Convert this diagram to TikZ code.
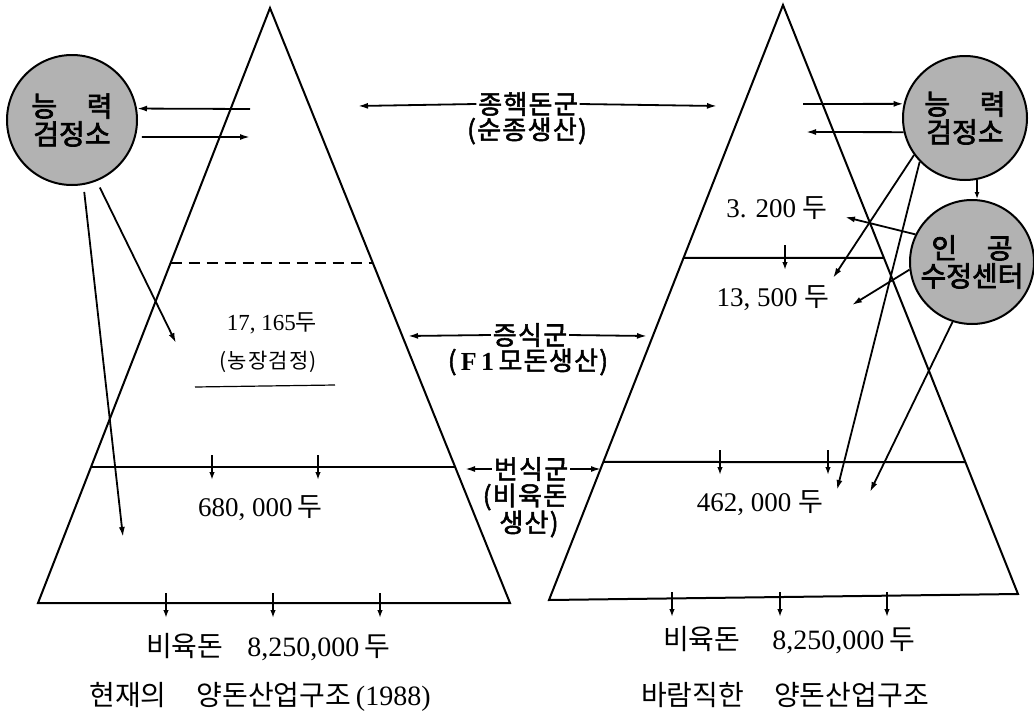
\documentclass[tikz,border=0pt]{standalone}
\usepackage{fontspec}
\setmainfont{Liberation Serif}
\newfontfamily\cjk{Noto Sans CJK KR}
\newfontfamily\cjkl[LetterSpace=6]{Noto Sans CJK KR}
\newfontfamily\cjkb[FakeBold=2,LetterSpace=5]{Noto Sans CJK KR}
\newfontfamily\cjkc[FakeBold=2.5]{Noto Sans CJK KR}
\usetikzlibrary{arrows.meta,calc}
\begin{document}
\begin{tikzpicture}[x=1pt,y=-1pt, line width=1.8pt,
  arr/.style={-{Latex[length=10pt,width=6pt]}},
  dnarr/.style={-{Latex[length=8pt,width=5.5pt]}, line width=1.6pt},
  circ/.style={circle, draw, line width=2pt, fill=black!30, inner sep=0pt, align=center,
    font=\cjkc\fontsize{28}{28}\selectfont},
  lab/.style={font=\cjkb\fontsize{26}{28}\selectfont, inner sep=1pt},
  num/.style={font=\fontsize{27}{28}\selectfont, inner sep=1pt},
  bot/.style={font=\fontsize{28}{30}\selectfont, inner sep=1pt},
  tri/.style={line width=2pt, line join=miter}
]
\useasboundingbox (0,0) rectangle (1034,712);
\fill[white] (0,0) rectangle (1034,712);

% ---------- left pyramid ----------
\coordinate (LA) at (270,8);
\coordinate (LBL) at (38,603);
\coordinate (LBR) at (510,603);
\draw[tri] (LBL) -- (LA) -- (LBR) -- cycle;
\draw[tri, dash pattern=on 11pt off 7pt] ($(LA)!0.4286!(LBL)$) -- ($(LA)!0.4286!(LBR)$);
\draw[tri] ($(LA)!0.7714!(LBL)$) -- ($(LA)!0.7714!(LBR)$);

% ---------- right pyramid ----------
\coordinate (RA) at (783,5);
\coordinate (RBL) at (549,600);
\coordinate (RBR) at (1018,594);
\draw[tri] (RBL) -- (RA) -- (RBR) -- cycle;
\draw[tri] ($(RA)!0.425!(RBL)$) -- ($(RA)!0.4295!(RBR)$);
\draw[tri] ($(RA)!0.768!(RBL)$) -- ($(RA)!0.776!(RBR)$);

% ---------- circles ----------
\node[circ, minimum size=130pt] (lc) at (72,120)
  {\makebox[2.9em]{능\hfill 력}\\검정소};
\node[circ, minimum size=124pt] (rc1) at (965,118)
  {\makebox[2.9em]{능\hfill 력}\\검정소};
\node[circ, minimum size=124pt] (rc2) at (972,262)
  {\makebox[2.9em]{인\hfill 공}\\수정센터};

% ---------- left texts ----------
\node[font=\fontsize{23}{24}\selectfont, inner sep=1pt] (n17) at (272,323) {17, 165{\cjk 두}};
\node[font=\cjkl\fontsize{21}{22}\selectfont, inner sep=1pt] (nfarm) at (268,362) {(농장검정)};
\coordinate (ul1) at (195,387);
\coordinate (ul2) at (335,385);
\draw[line width=1.2pt] (ul1) -- (ul2);
\node[num] (n680) at (260,508) {680, 000\,{\cjk 두}};
\node[bot] (lbot) at (268,647) {{\cjk 비육돈}\hspace{24pt}8,250,000\,{\cjk 두}};
\node[bot] (ltitle) at (260,697) {{\cjk 현재의}\hspace{30pt}{\cjk 양돈산업구조}\,(1988)};

% ---------- right texts ----------
\node[num] (n32) at (777,208) {3. 200 {\cjk 두}};
\node[num] (n135) at (773,298) {13, 500 {\cjk 두}};
\node[num] (n462) at (760,503) {462, 000 {\cjk 두}};
\node[bot] (rbot) at (789,640) {{\cjk 비육돈}\hspace{32pt}8,250,000\,{\cjk 두}};
\node[bot] (rtitle) at (785,695) {{\cjk 바람직한}\hspace{30pt}{\cjk 양돈산업구조}};

% ---------- middle labels ----------
\node[lab] (jh) at (528,104) {종핵돈군};
\node[lab] (jh2) at (527,131) {(순종생산)};
\coordinate (jhL) at (358,106);
\coordinate (jhR) at (717,106);
\draw[arr] (jh.west) -- (jhL);
\draw[arr] (jh.east) -- (jhR);

\node[lab] (js) at (530,335) {증식군};
\node[lab] (js2) at (528,362) {(\,{\rmfamily\bfseries F\,1}\,모돈생산)};
\coordinate (jsL) at (408,336);
\coordinate (jsR) at (647,336);
\draw[arr] (js.west) -- (jsL);
\draw[arr] (js.east) -- (jsR);

\node[lab] (bs) at (531,469) {번식군};
\node[lab] (bs2) at (525,497) {(비육돈};
\node[lab] (bs3) at (529,524) {생산)};
\coordinate (bsL) at (465,469);
\coordinate (bsR) at (601,469);
\draw[arr] (bs.west) -- (bsL);
\draw[arr] (bs.east) -- (bsR);

% ---------- left circle arrows ----------
\coordinate (la1) at (250,109);
\coordinate (la2) at (250,137);
\coordinate (la3) at (123,537);
\coordinate (la4) at (176,343);
\draw[arr] (la1) -- (lc.10);
\draw[arr, shorten <=6pt] (lc.-15) -- (la2);
\draw[arr, shorten <=7pt] (lc.-80) -- (la3);
\draw[arr, shorten <=7pt] (lc.-68) -- (la4);

% ---------- right circle arrows ----------
\coordinate (ra1) at (803,104);
\coordinate (ra2) at (806,132);
\coordinate (ra3) at (833,278);
\coordinate (ra4) at (837,490);
\coordinate (ra5) at (845,217);
\coordinate (ra6) at (852,305);
\coordinate (ra7) at (870,492);
\draw[arr] (ra1) -- (rc1.167);
\draw[arr] (rc1.-167) -- (ra2);
\draw[arr] (rc1.-144) -- (ra3);
\draw[arr] (rc1.-136) -- (ra4);
\draw[-{Latex[length=7pt,width=5pt]}, line width=1.5pt] (rc1.-79) -- (rc1.-79 |- rc2.north);
\draw[arr] (rc2.154) -- (ra5);
\draw[arr] (rc2.-173) -- (ra6);
\draw[arr] (rc2.-108) -- (ra7);

% ---------- small down arrows ----------
\foreach \x/\y [count=\i] in {212/455, 318/455, 166/593, 273/593, 380/593,
                             785/245, 720/450, 828/450, 672/592, 780/592, 887/592}{
  \coordinate (d\i) at (\x,\y);
  \coordinate (e\i) at (\x,\y+25);
  \draw[dnarr] (d\i) -- (e\i);
}
\end{tikzpicture}
\end{document}
